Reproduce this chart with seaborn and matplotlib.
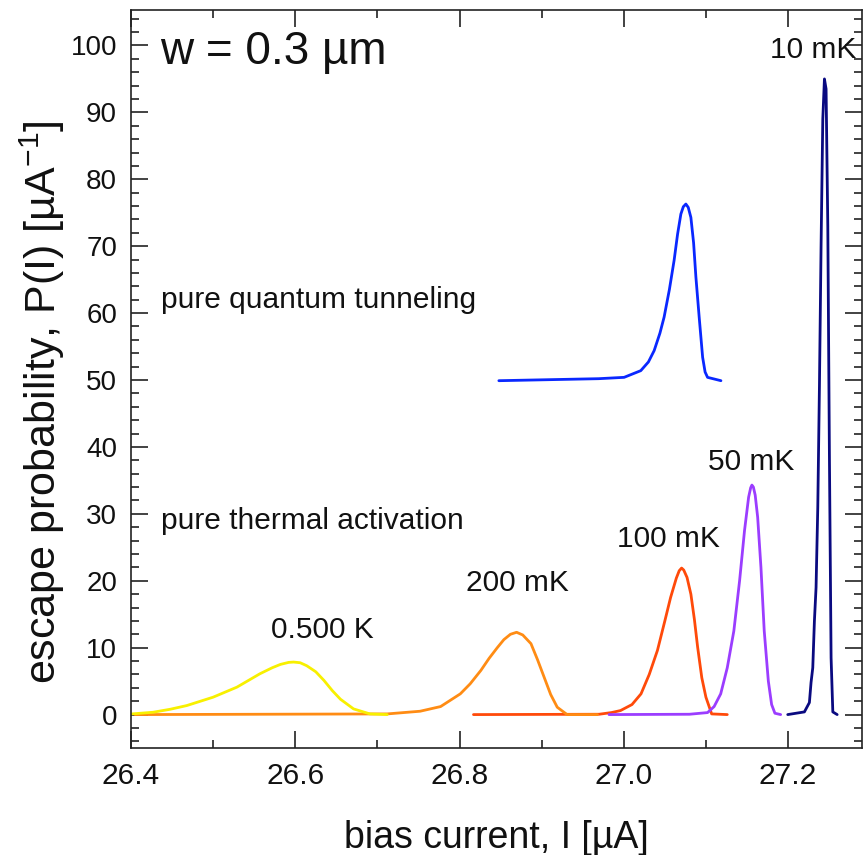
import numpy as np
import pandas as pd
import matplotlib
matplotlib.use("Agg")
import matplotlib.pyplot as plt
import seaborn as sns
from matplotlib.ticker import MultipleLocator, FormatStrFormatter

# ── Données (I en µA, P(I) en µA^-1) ────────────────────────────
I_500mK = [26.401, 26.427, 26.448, 26.468, 26.500, 26.529, 26.557, 26.572,
           26.582, 26.592, 26.598, 26.606, 26.614, 26.625, 26.635, 26.645,
           26.655, 26.671, 26.691, 26.712]
P_500mK = [0.1, 0.35, 0.8, 1.35, 2.6, 4.1, 6.1, 7.0,
           7.5, 7.8, 7.85, 7.75, 7.3, 6.4, 5.1, 3.6,
           2.3, 0.85, 0.1, 0.0]

I_200mK = [26.405, 26.712, 26.752, 26.777, 26.801, 26.813, 26.826, 26.836,
           26.846, 26.854, 26.862, 26.8695, 26.877, 26.887, 26.895, 26.903,
           26.911, 26.919, 26.931, 26.968]
P_200mK = [0.0, 0.1, 0.5, 1.2, 3.1, 4.6, 6.6, 8.4,
           10.0, 11.2, 12.0, 12.3, 11.9, 10.6, 8.2, 5.6,
           3.0, 1.1, 0.0, 0.0]

I_100mK = [26.817, 26.970, 26.985, 26.996, 27.010, 27.021, 27.031, 27.041,
           27.050, 27.057, 27.064, 27.0675, 27.0704, 27.073, 27.077, 27.0817,
           27.0860, 27.0899, 27.095, 27.100, 27.107, 27.126]
P_100mK = [0.0, 0.05, 0.3, 0.6, 1.5, 3.1, 6.0, 9.6,
           14.0, 17.5, 20.4, 21.5, 21.9, 21.6, 20.5, 18.0,
           14.2, 10.1, 5.5, 2.6, 0.1, 0.0]

I_50mK = [26.982, 27.080, 27.102, 27.110, 27.118, 27.126, 27.134, 27.141,
          27.147, 27.152, 27.1545, 27.156, 27.1578, 27.160, 27.163, 27.167,
          27.171, 27.176, 27.180, 27.184, 27.191]
P_50mK = [0.0, 0.05, 0.3, 1.2, 3.1, 7.0, 12.5, 20.0,
          27.5, 32.5, 33.9, 34.3, 34.0, 32.8, 29.5, 22.0,
          12.5, 5.0, 1.5, 0.2, 0.0]

I_10mK = [27.1996, 27.2199, 27.2260, 27.2280, 27.2301, 27.2321, 27.2341, 27.2362,
          27.2382, 27.2402, 27.2423, 27.2443, 27.2463, 27.2484, 27.2504, 27.2524,
          27.2545, 27.2598]
P_10mK = [0.0, 0.4, 1.8, 4.8, 7.0, 14.0, 19.0, 31.0,
          49.0, 70.0, 89.0, 95.0, 93.5, 73.0, 38.0, 8.5,
          0.4, 0.0]

# tunnel quantique pur (décalé de +50)
I_qt = [26.8479, 26.9695, 27.0004, 27.0207, 27.0300, 27.0370, 27.0440, 27.0491,
        27.0555, 27.0613, 27.0655, 27.0695, 27.0725, 27.0756, 27.0785, 27.0817,
        27.0850, 27.0878, 27.0918, 27.0960, 27.0990, 27.1020, 27.1183]
P_qt = [49.9, 50.2, 50.4, 51.4, 52.7, 54.4, 57.0, 59.4,
        63.5, 67.9, 71.8, 74.8, 75.9, 76.3, 75.8, 74.3,
        70.5, 65.4, 59.4, 53.4, 51.2, 50.4, 49.9]

curves = [
    ("100 mK", I_100mK, P_100mK, "#ff4a0a"),
    ("50 mK",  I_50mK,  P_50mK,  "#9b3dff"),
    ("10 mK",  I_10mK,  P_10mK,  "#0a0a80"),
    ("200 mK", I_200mK, P_200mK, "#ff8c14"),
    ("0.500 K", I_500mK, P_500mK, "#f8f000"),
    ("quantum", I_qt,   P_qt,    "#0a28ff"),
]

labels_txt = ["10 mK", "50 mK", "100 mK", "200 mK", "0.500 K"]
labels_x   = [27.2305, 27.1549, 27.0549, 26.8707, 26.633]
labels_y   = [99.3, 37.7, 26.3, 19.6, 12.6]

# ── Figure ───────────────────────────────────────────────────
sns.set_theme(style="ticks")
plt.rcParams["font.family"] = ["Liberation Sans", "DejaVu Sans"]
plt.rcParams["mathtext.default"] = "regular"

fig = plt.figure(figsize=(8.65, 8.55), dpi=100)
ax = fig.add_axes([0.1514, 0.1251, 0.8451, 0.8632])

for name, xs, ys, col in curves:
    df = pd.DataFrame({"I": xs, "P": ys})
    sns.lineplot(data=df, x="I", y="P", color=col, lw=2.0, sort=False,
                 estimator=None, ax=ax)

for t, x, y in zip(labels_txt, labels_x, labels_y):
    ax.text(x, y, t, ha="center", va="center", fontsize=21.5, color="#111111")

ax.text(26.435, 99.0, "w = 0.3 µm", ha="left", va="center", fontsize=33, color="#111111")
ax.text(26.437, 61.9, "pure quantum tunneling", ha="left", va="center", fontsize=21.5, color="#111111")
ax.text(26.437, 29.0, "pure thermal activation", ha="left", va="center", fontsize=21.5, color="#111111")

ax.set_xlim(26.4, 27.29)
ax.set_ylim(-5, 105.3)
ax.xaxis.set_major_locator(MultipleLocator(0.2))
ax.xaxis.set_minor_locator(MultipleLocator(0.1))
ax.yaxis.set_major_locator(MultipleLocator(10))
ax.yaxis.set_minor_locator(MultipleLocator(2))
ax.xaxis.set_major_formatter(FormatStrFormatter("%.1f"))

ax.tick_params(which="both", direction="in", top=True, right=True, width=1.2, color="#222222")
ax.tick_params(which="major", length=12, labelsize=20, pad=10, labelcolor="#111111")
ax.tick_params(axis="x", which="major", labelsize=21.5)
ax.tick_params(which="minor", length=6)
for s in ax.spines.values():
    s.set_linewidth(1.2)
    s.set_color("#222222")

ax.set_xlabel("bias current, I [µA]", fontsize=27, labelpad=22, color="#111111")
ax.set_ylabel("escape probability, P(I) [µA$^{-1}$]", fontsize=31, color="#111111")
ax.yaxis.set_label_coords(-0.087, 0.469)

plt.savefig("out.png", dpi=100, facecolor="white")
